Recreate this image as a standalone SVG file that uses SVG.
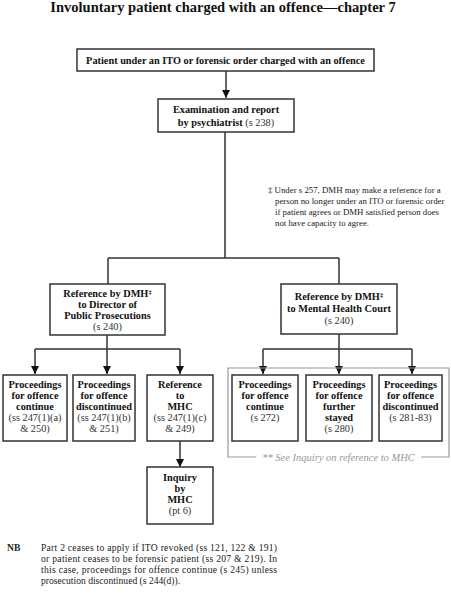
<svg xmlns="http://www.w3.org/2000/svg" width="451" height="597" viewBox="0 0 451 597">
<defs>
<marker id="ah" viewBox="0 0 10 10" refX="10" refY="5" markerWidth="8" markerHeight="9" markerUnits="userSpaceOnUse" orient="auto">
<path d="M0,0 L10,5 L0,10 z" fill="#111"/>
</marker>
<style>
.box{fill:#fff;stroke:#333;stroke-width:1.5}
.t{font-family:"Liberation Serif","Times New Roman",serif;font-size:10.3px;fill:#111;text-anchor:middle}
.b{font-weight:bold}
.r{font-weight:normal;fill:#333}
.ln{fill:none;stroke:#333;stroke-width:1.5}
.title{font-family:"Liberation Serif","Times New Roman",serif;font-size:14.5px;font-weight:bold;fill:#111;text-anchor:middle}
.note{font-family:"Liberation Serif","Times New Roman",serif;font-size:8.8px;fill:#222}
.nb{font-family:"Liberation Serif","Times New Roman",serif;font-size:9.6px;fill:#222}
.sup{font-size:6.5px}
</style>
</defs>
<rect width="451" height="597" fill="#fff"/>
<text class="title" x="223" y="12">Involuntary patient charged with an offence—chapter 7</text>

<g id="connectors">
<path class="ln" d="M226,71 V98" marker-end="url(#ah)"/>
<path class="ln" d="M225,132 V258 M108,258 H339 M108,258 V284 M339,258 V284"/>
<path class="ln" d="M107,335 V349 M35,349 H180"/>
<path class="ln" d="M35,349 V374" marker-end="url(#ah)"/>
<path class="ln" d="M107,349 V374" marker-end="url(#ah)"/>
<path class="ln" d="M180,349 V374" marker-end="url(#ah)"/>
<path class="ln" d="M339,334 V349 M263,349 H412"/>
<path class="ln" d="M263,349 V374" marker-end="url(#ah)"/>
<path class="ln" d="M339,349 V374" marker-end="url(#ah)"/>
<path class="ln" d="M412,349 V374" marker-end="url(#ah)"/>
<path class="ln" d="M180,441 V467" marker-end="url(#ah)"/>
</g>

<g id="n1">
<rect class="box" x="77" y="49" width="297" height="22"/>
<text class="t b" x="225.5" y="64">Patient under an ITO or forensic order charged with an offence</text>
</g>
<g id="n2">
<rect class="box" x="158" y="99" width="136" height="33"/>
<text class="t b" x="226" y="113">Examination and report</text>
<text class="t b" x="226" y="126">by psychiatrist <tspan class="r">(s 238)</tspan></text>
</g>

<g id="footnote">
<text class="note" x="268" y="193">‡ Under s 257, DMH may make a reference for a</text>
<text class="note" x="275" y="204">person no longer under an ITO or forensic order</text>
<text class="note" x="275" y="215">if patient agrees or DMH satisfied person does</text>
<text class="note" x="275" y="226">not have capacity to agree.</text>
</g>

<g id="n3">
<rect class="box" x="50" y="284" width="115" height="51"/>
<text class="t b" x="107.5" y="297">Reference by DMH<tspan class="sup" dy="-3">‡</tspan></text>
<text class="t b" x="107.5" y="307.5">to Director of</text>
<text class="t b" x="107.5" y="318.5">Public Prosecutions</text>
<text class="t r" x="107.5" y="329.5">(s 240)</text>
</g>
<g id="n4">
<rect class="box" x="281" y="284" width="116" height="50"/>
<text class="t b" x="339" y="300">Reference by DMH<tspan class="sup" dy="-3">‡</tspan></text>
<text class="t b" x="339" y="312">to Mental Health Court</text>
<text class="t r" x="339" y="324">(s 240)</text>
</g>

<g id="n5">
<rect class="box" x="3" y="375" width="64" height="66"/>
<text class="t b" x="35" y="388">Proceedings</text>
<text class="t b" x="35" y="399">for offence</text>
<text class="t b" x="35" y="410">continue</text>
<text class="t r" x="35" y="421">(ss 247(1)(a)</text>
<text class="t r" x="35" y="432">&amp; 250)</text>
</g>
<g id="n6">
<rect class="box" x="73" y="375" width="62" height="66"/>
<text class="t b" x="104" y="388">Proceedings</text>
<text class="t b" x="104" y="399">for offence</text>
<text class="t b" x="104" y="410">discontinued</text>
<text class="t r" x="104" y="421">(ss 247(1)(b)</text>
<text class="t r" x="104" y="432">&amp; 251)</text>
</g>
<g id="n7">
<rect class="box" x="147" y="375" width="66" height="66"/>
<text class="t b" x="180" y="388">Reference</text>
<text class="t b" x="180" y="399">to</text>
<text class="t b" x="180" y="410">MHC</text>
<text class="t r" x="180" y="421">(ss 247(1)(c)</text>
<text class="t r" x="180" y="432">&amp; 249)</text>
</g>
<g id="n8">
<rect class="box" x="147" y="467" width="66" height="57"/>
<text class="t b" x="180" y="481">Inquiry</text>
<text class="t b" x="180" y="492">by</text>
<text class="t b" x="180" y="503">MHC</text>
<text class="t r" x="180" y="514">(pt 6)</text>
</g>

<g id="bracket">
<path d="M256,457 H228 V368 H449 V457 H421" fill="none" stroke="#999" stroke-width="1.2"/>
<text x="338.5" y="461" font-family="Liberation Serif,serif" font-style="italic" font-size="10.5" fill="#999" text-anchor="middle">** See Inquiry on reference to MHC</text>
</g>
<g id="n9">
<rect class="box" x="232" y="375" width="66" height="66"/>
<text class="t b" x="265" y="388">Proceedings</text>
<text class="t b" x="265" y="399">for offence</text>
<text class="t b" x="265" y="410">continue</text>
<text class="t r" x="265" y="421">(s 272)</text>
</g>
<g id="n10">
<rect class="box" x="306" y="375" width="66" height="66"/>
<text class="t b" x="339" y="388">Proceedings</text>
<text class="t b" x="339" y="399">for offence</text>
<text class="t b" x="339" y="410">further</text>
<text class="t b" x="339" y="421">stayed</text>
<text class="t r" x="339" y="432">(s 280)</text>
</g>
<g id="n11">
<rect class="box" x="379" y="375" width="63" height="66"/>
<text class="t b" x="410.5" y="388">Proceedings</text>
<text class="t b" x="410.5" y="399">for offence</text>
<text class="t b" x="410.5" y="410">discontinued</text>
<text class="t r" x="410.5" y="421">(s 281-83)</text>
</g>

<g id="nb">
<text class="nb" x="7" y="551" style="font-weight:bold">NB</text>
<text class="nb" x="41" y="551" textLength="236" lengthAdjust="spacing">Part 2 ceases to apply if ITO revoked (ss 121, 122 &amp; 191)</text>
<text class="nb" x="41" y="562" textLength="236" lengthAdjust="spacing">or patient ceases to be forensic patient (ss 207 &amp; 219). In</text>
<text class="nb" x="41" y="573" textLength="236" lengthAdjust="spacing">this case, proceedings for offence continue (s 245) unless</text>
<text class="nb" x="41" y="584">prosecution discontinued (s 244(d)).</text>
</g>
</svg>
